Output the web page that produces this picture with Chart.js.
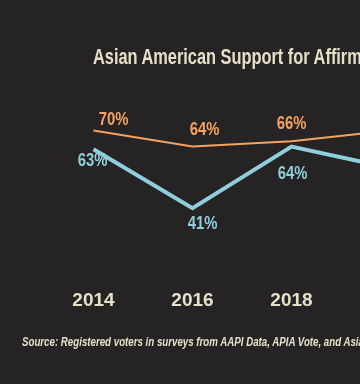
<!DOCTYPE html>
<html>
<head>
<meta charset="utf-8">
<script src="https://cdn.jsdelivr.net/npm/chart.js@4/dist/chart.umd.min.js"></script>
<style>
  html, body {
    margin: 0;
    padding: 0;
    background: #262324;
    overflow: hidden;
    width: 360px;
    height: 384px;
  }
  #wrap {
    position: relative;
    width: 360px;
    height: 384px;
    overflow: hidden;
  }
  #grafica {
    position: absolute;
    left: 0;
    top: 0;
  }
  .titulo {
    position: absolute;
    left: 93px;
    top: 44px;
    color: #e6e0c9;
    font-family: "Liberation Sans", Arial, sans-serif;
    font-weight: bold;
    font-size: 22px;
    white-space: nowrap;
    transform-origin: left top;
  }
  .fuente {
    position: absolute;
    left: 22px;
    top: 335px;
    color: #e6e0c9;
    font-family: "Liberation Sans", Arial, sans-serif;
    font-weight: bold;
    font-style: italic;
    font-size: 12px;
    white-space: nowrap;
    transform-origin: left top;
  }
</style>
</head>
<body>
<div id="wrap">
  <canvas id="grafica" width="500" height="384"></canvas>
  <div class="titulo" id="titulo">Asian American Support for Affirmative Action</div>
  <div class="fuente" id="fuente">Source: Registered voters in surveys from AAPI Data, APIA Vote, and Asian Americans Advancing Justice</div>
</div>
<script>
(function () {
  const years = ["2014", "2016", "2018", "2020"];
  const allAsian = [70, 64, 66, 70];
  const chinese = [63, 41, 64, 56];

  const crema = "#e6e0c9";
  const naranja = "#f4a35e";
  const azul = "#8fcfdb";
  const fuente = '"Liberation Sans", Arial, sans-serif';

  // la letra original es condensada: se aprieta a lo ancho
  function apretar(el, muestra, ancho) {
    const c = document.createElement("canvas").getContext("2d");
    const st = getComputedStyle(el);
    c.font = st.fontStyle + " " + st.fontWeight + " " + st.fontSize + " " + fuente;
    const w = c.measureText(muestra).width;
    el.style.transform = "scaleX(" + (ancho / w) + ")";
  }
  apretar(document.getElementById("titulo"), "Asian American Support for Affirm", 270);
  apretar(document.getElementById("fuente"), "Source: Registered voters in surveys from AAPI Data, APIA Vote, and Asi", 338);

  // etiquetas de porcentaje junto a cada punto
  const etiquetas = {
    id: "etiquetas",
    afterDatasetsDraw(chart) {
      const ctx = chart.ctx;
      chart.data.datasets.forEach((ds, i) => {
        const meta = chart.getDatasetMeta(i);
        meta.data.forEach((pt, j) => {
          const off = ds.labelOffsets[j] || [0, 0];
          ctx.save();
          ctx.translate(pt.x + off[0], pt.y + off[1]);
          ctx.scale(0.78, 1);
          ctx.font = "bold 19px " + fuente;
          ctx.textAlign = "center";
          ctx.textBaseline = "middle";
          ctx.fillStyle = ds.borderColor;
          ctx.fillText(ds.data[j] + "%", 0, 0);
          ctx.restore();
        });
      });
    },
  };

  new Chart(document.getElementById("grafica").getContext("2d"), {
    type: "line",
    data: {
      labels: years,
      datasets: [
        {
          label: "All Asian Americans",
          data: allAsian,
          borderColor: naranja,
          borderWidth: 2,
          pointRadius: 0,
          tension: 0,
          labelOffsets: [[20, -11], [12, -17], [0, -17], [0, -17]],
        },
        {
          label: "Chinese Americans",
          data: chinese,
          borderColor: azul,
          borderWidth: 4,
          pointRadius: 0,
          tension: 0,
          labelOffsets: [[-1, 12], [10, 16], [1, 27], [0, 20]],
        },
      ],
    },
    options: {
      responsive: false,
      animation: false,
      layout: {
        padding: { left: 44, right: 60, top: 117, bottom: 42 },
      },
      scales: {
        x: {
          offset: true,
          grid: { display: false },
          border: { display: false },
          ticks: {
            color: crema,
            padding: 30,
            font: { family: fuente, size: 19, weight: "bold" },
          },
        },
        y: {
          display: false,
          min: 25,
          max: 75,
        },
      },
      plugins: {
        legend: { display: false },
        tooltip: { enabled: false },
      },
    },
    plugins: [etiquetas],
  });
})();
</script>
</body>
</html>
